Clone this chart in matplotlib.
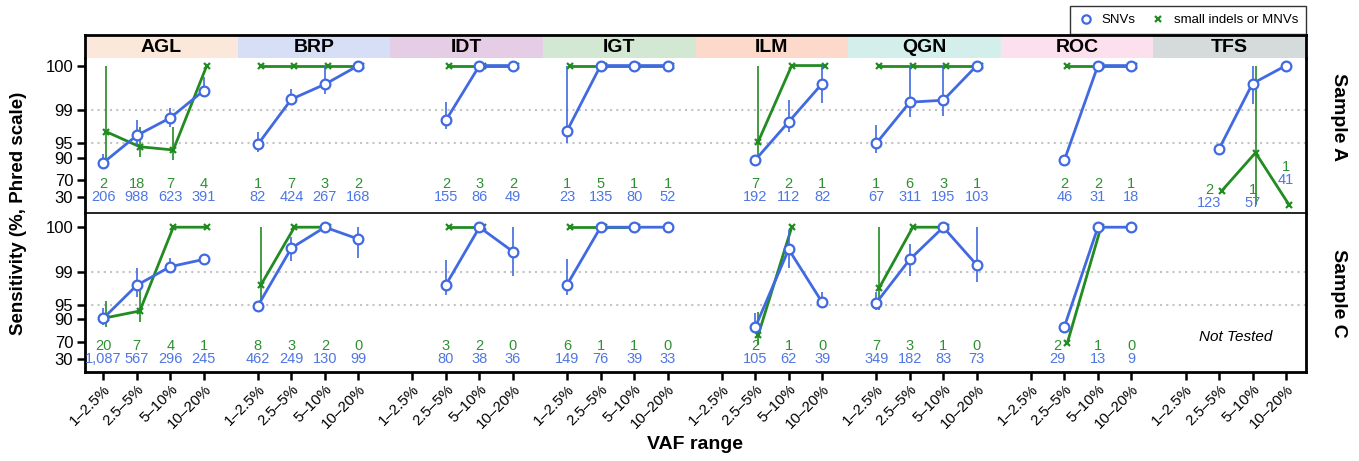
import numpy as np
import matplotlib
matplotlib.use("Agg")
import matplotlib.pyplot as plt
from matplotlib.lines import Line2D
from matplotlib.patches import Rectangle

plt.rcParams['font.family'] = ['Liberation Sans', 'DejaVu Sans']

nan = np.nan
labs = ['AGL', 'BRP', 'IDT', 'IGT', 'ILM', 'QGN', 'ROC', 'TFS']
vaf_bins = ['1–2.5%', '2.5–5%', '5–10%', '10–20%']
samples = ['Sample A', 'Sample C']
strip_colors = ['#FCE8DA', '#D7DFF6', '#E6CDE6', '#D3E8D3',
                '#FDD9CC', '#D4EEEC', '#FDE0EE', '#D5DADA']
y_ticks = [30, 70, 90, 95, 99, 100]

# ---- Sample A (rows = labs, cols = VAF bins), sensitivity in %
a_snv_sens = [[87.1, 96.6, 98.56, 99.62], [94.75, 99.42, 99.72, 100],
              [nan, 98.39, 100, 100], [97.3, 100, 100, 100],
              [nan, 88.7, 98.25, 99.73], [95.0, 99.33, 99.39, 100],
              [nan, 88.7, 100, 100], [nan, 93.4, 99.73, 100]]
a_snv_lo = [[83.5, 94.6, 97.8, 99.5], [92.5, 99.26, 99.54, nan],
            [nan, 97.5, nan, nan], [95.0, nan, nan, nan],
            [nan, nan, 97.16, 99.31], [92.1, 98.63, 98.68, nan],
            [nan, nan, nan, nan], [nan, nan, 99.26, nan]]
a_snv_hi = [[91.4, 98.4, 99.1, 99.8], [97.1, 99.64, 100, nan],
            [nan, 99.34, nan, nan], [100, nan, nan, nan],
            [nan, nan, 99.39, 100], [97.95, 100, 100, nan],
            [nan, nan, nan, nan], [nan, nan, 100, nan]]
a_indel_sens = [[97.16, 94.1, 93.1, 100], [100, 100, 100, 100],
                [nan, 100, 100, 100], [100, 100, 100, 100],
                [nan, 95.4, 100, 100], [100, 100, 100, 100],
                [nan, 100, 100, 100], [nan, 50, 92.1, 0]]
a_indel_lo = [[87.1, 90.4, 88.7, nan], [nan, nan, nan, nan],
              [nan, nan, nan, nan], [nan, nan, nan, nan],
              [nan, 88.7, nan, nan], [nan, nan, nan, nan],
              [nan, nan, nan, nan], [nan, nan, 0, nan]]
a_indel_hi = [[100, 97.7, 97.7, nan], [nan, nan, nan, nan],
              [nan, nan, nan, nan], [nan, nan, nan, nan],
              [nan, 100, nan, nan], [nan, nan, nan, nan],
              [nan, nan, nan, nan], [nan, nan, 100, nan]]
a_snv_n = [[206, 988, 623, 391], [82, 424, 267, 168], [None, 155, 86, 49],
           [23, 135, 80, 52], [None, 192, 112, 82], [67, 311, 195, 103],
           [None, 46, 31, 18], [None, 123, 57, 41]]
a_indel_n = [[2, 18, 7, 4], [1, 7, 3, 2], [None, 2, 3, 2], [1, 5, 1, 1],
             [None, 7, 2, 1], [1, 6, 3, 1], [None, 2, 2, 1], [None, 2, 1, 1]]

# ---- Sample C
c_snv_sens = [[90.4, 98.09, 99.23, 99.46], [94.8, 99.69, 100, 99.80],
              [nan, 98.14, 100, 99.63], [98.14, 100, 100, 100],
              [nan, 85.1, 99.67, 95.6], [95.5, 99.46, 100, 99.29],
              [nan, 85.6, 100, 100], [nan, nan, nan, nan]]
c_snv_lo = [[86.7, 96.67, 98.93, nan], [nan, 99.42, nan, 99.50],
            [nan, 96.93, nan, 98.8], [97.0, nan, nan, nan],
            [nan, 81.6, 99.16, 94.6], [93.6, 98.78, nan, 98.39],
            [nan, nan, nan, nan], [nan, nan, nan, nan]]
c_snv_hi = [[94.3, 99.16, 99.49, nan], [nan, 99.82, nan, 100],
            [nan, 99.44, nan, 100], [99.46, nan, nan, nan],
            [nan, 92.6, 99.87, 97.4], [97.4, 99.75, nan, 100],
            [nan, nan, nan, nan], [nan, nan, nan, nan]]
c_indel_sens = [[90.7, 93.3, 100, 100], [98.12, 100, 100, nan],
                [nan, 100, 100, nan], [100, 100, 100, nan],
                [nan, 78.4, 100, nan], [97.85, 100, 100, nan],
                [nan, 68.5, 100, nan], [nan, nan, nan, nan]]
c_indel_lo = [[85.6, 88.7, nan, nan], [95.4, nan, nan, nan],
              [nan, nan, nan, nan], [nan, nan, nan, nan],
              [nan, 64.8, nan, nan], [93.6, nan, nan, nan],
              [nan, nan, nan, nan], [nan, nan, nan, nan]]
c_indel_hi = [[95.9, 97.7, nan, nan], [100, nan, nan, nan],
              [nan, nan, nan, nan], [nan, nan, nan, nan],
              [nan, 93.1, nan, nan], [100, nan, nan, nan],
              [nan, nan, nan, nan], [nan, nan, nan, nan]]
c_snv_n = [[1087, 567, 296, 245], [462, 249, 130, 99], [None, 80, 38, 36],
           [149, 76, 39, 33], [None, 105, 62, 39], [349, 182, 83, 73],
           [None, 29, 13, 9], [None, None, None, None]]
c_indel_n = [[20, 7, 4, 1], [8, 3, 2, 0], [None, 3, 2, 0], [6, 1, 1, 0],
             [None, 2, 1, 0], [7, 3, 1, 0], [None, 2, 1, 0], [None, None, None, None]]

not_tested = [('Sample C', 'TFS')]

# label nudges (repelled labels in the original), in (x units, phred units)
label_nudge = {('Sample A', 'TFS', 1): (-0.3, -1.3),
               ('Sample A', 'TFS', 2): (0.0, -1.3),
               ('Sample A', 'TFS', 3): (0.0, 3.7),
               ('Sample C', 'ROC', 1): (-0.2, 0.0)}

BLUE = '#4169E1'
GREEN = '#228B22'
BLUE_TXT = '#4F76E2'
GREEN_TXT = '#2E9130'
PERIOD = 4.615   # x distance between lab groups
DODGE = 0.09


def phred(p):
    p = np.asarray(p, dtype=float)
    return -10 * np.log10(np.maximum(1 - p / 100.0, 10 ** -2.95))


W, H = 1359, 461
fig = plt.figure(figsize=(W / 100, H / 100), dpi=100)


def fx(px):
    return px / W


def fy(px):
    return 1 - px / H


ax_top = fig.add_axes([fx(85), fy(213), fx(1306) - fx(85), fy(58) - fy(213)])
ax_bot = fig.add_axes([fx(85), fy(372), fx(1306) - fx(85), fy(214) - fy(372)])
ax_strip = fig.add_axes([fx(85), fy(58), fx(1306) - fx(85), fy(35) - fy(58)])

rows = [
    (ax_top, samples[0], a_snv_sens, a_snv_lo, a_snv_hi, a_indel_sens, a_indel_lo,
     a_indel_hi, a_snv_n, a_indel_n, (-1.75, 31.1)),
    (ax_bot, samples[1], c_snv_sens, c_snv_lo, c_snv_hi, c_indel_sens, c_indel_lo,
     c_indel_hi, c_snv_n, c_indel_n, (-1.2, 32.3)),
]

for (ax, sample, s_sens, s_lo, s_hi, i_sens, i_lo, i_hi, s_n, i_n, ylim) in rows:
    xmin, xmax = -0.546, 7 * PERIOD + 3 + 0.597
    for yv in [95, 99]:
        ax.axhline(phred(yv), color='#C4C4C4', lw=1.5, ls=(0, (1, 2)), zorder=0)
    for g, lab in enumerate(labs):
        x = g * PERIOD + np.arange(4)
        # indels (green) first, SNVs (blue) on top
        for sens, lo, hi, dx, col, mk in [
                (i_sens[g], i_lo[g], i_hi[g], DODGE, GREEN, 'x'),
                (s_sens[g], s_lo[g], s_hi[g], 0.0, BLUE, 'o')]:
            xs = x + dx
            for j in range(4):
                if not np.isnan(lo[j]):
                    ax.plot([xs[j], xs[j]], [phred(lo[j]), phred(hi[j])],
                            color=col, lw=1.2, zorder=2 if col == GREEN else 4,
                            solid_capstyle='butt')
            yy = phred(sens)
            ok = ~np.isnan(np.asarray(sens, float))
            if col == BLUE:
                ax.plot(xs[ok], yy[ok], color=col, lw=2.0, marker='o', ms=7,
                        mfc='white', mec=col, mew=1.6, zorder=5)
            else:
                ax.plot(xs[ok], yy[ok], color=col, lw=2.0, marker='x', ms=4.5,
                        mew=1.6, zorder=3)
        for j in range(4):
            ddx, ddy = label_nudge.get((sample, lab, j), (0.0, 0.0))
            if i_n[g][j] is not None:
                ax.text(x[j] + ddx, 4.4 + ddy, f"{i_n[g][j]:,}", color=GREEN_TXT,
                        ha='center', va='center', fontsize=10.5, zorder=6)
            if s_n[g][j] is not None:
                ax.text(x[j] + ddx, 1.6 + ddy, f"{s_n[g][j]:,}", color=BLUE_TXT,
                        ha='center', va='center', fontsize=10.5, zorder=6)
        if (sample, lab) in not_tested:
            ax.text(g * PERIOD + 1.5, 6.2, 'Not Tested', style='italic',
                    ha='center', va='center', fontsize=11)
    ax.set_xlim(xmin, xmax)
    ax.set_ylim(*ylim)
    ax.set_yticks(phred(y_ticks))
    ax.set_yticklabels([str(v) for v in y_ticks], fontsize=12)
    ax.tick_params(axis='y', length=5.5, width=1.8, pad=3)
    for sp in ax.spines.values():
        sp.set_linewidth(2.0)
    ax.text(1.027, 0.5 if sample == samples[1] else 0.62, sample, transform=ax.transAxes,
            rotation=-90, ha='center', va='center', fontsize=14, fontweight='bold')

ax_top.spines['top'].set_visible(False)
ax_top.spines['bottom'].set_linewidth(1.2)
ax_bot.spines['top'].set_visible(False)
ax_top.set_xticks([])

ticks = [g * PERIOD + j for g in range(len(labs)) for j in range(4)]
ax_bot.set_xticks(ticks)
ax_bot.set_xticklabels(vaf_bins * len(labs), rotation=45, ha='right',
                       rotation_mode='anchor', fontsize=10.8)
ax_bot.tick_params(axis='x', length=5.5, width=1.8, pad=2)

# strips
ax_strip.set_xlim(0, len(labs))
ax_strip.set_ylim(0, 1)
for g, lab in enumerate(labs):
    ax_strip.add_patch(Rectangle((g, 0), 1, 1, facecolor=strip_colors[g],
                                 edgecolor='none'))
    ax_strip.text(g + 0.5, 0.47, lab, ha='center', va='center', fontsize=14,
                  fontweight='bold')
ax_strip.set_xticks([])
ax_strip.set_yticks([])
ax_strip.spines['bottom'].set_visible(False)
for sp in ['top', 'left', 'right']:
    ax_strip.spines[sp].set_linewidth(2.0)

fig.text(fx(19), fy(213), 'Sensitivity (%, Phred scale)', rotation=90,
         ha='center', va='center', fontsize=13.5, fontweight='bold')
fig.text(fx(695), fy(444), 'VAF range', ha='center', va='center',
         fontsize=14, fontweight='bold')

handles = [Line2D([], [], ls='none', marker='o', ms=6, mfc='white', mec=BLUE, mew=1.6),
           Line2D([], [], ls='none', marker='x', ms=4.5, mec=GREEN, mew=1.6)]
leg = fig.legend(handles, ['SNVs', 'small indels or MNVs'], ncol=2,
                 loc='upper right', bbox_to_anchor=(fx(1306), fy(6)),
                 frameon=True, fancybox=False, edgecolor='black', fontsize=9.5,
                 handletextpad=0.6, columnspacing=1.1, borderpad=0.6,
                 handlelength=1.2, borderaxespad=0)
leg.get_frame().set_linewidth(1.0)

fig.savefig('out.png', dpi=100)
